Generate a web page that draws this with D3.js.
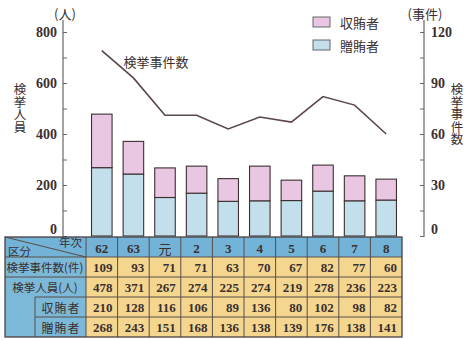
<!DOCTYPE html>
<html><head><meta charset="utf-8">
<script src="https://cdn.jsdelivr.net/npm/d3@7/dist/d3.min.js"></script>
<style>
html,body{margin:0;padding:0;background:#fff;}
svg{display:block;}
</style></head>
<body>
<svg id="c" width="467" height="340"></svg>
<script>
const years = ["62","63","元","2","3","4","5","6","7","8"];
const cases = [109,93,71,71,63,70,67,82,77,60];
const persons = [478,371,267,274,225,274,219,278,236,223];
const takers = [210,128,116,106,89,136,80,102,98,82];   // 収賄者
const givers = [268,243,151,168,136,138,139,176,138,141]; // 贈賄者
const leftTicks = [0,100,200,300,400,500,600,700,800];
const rightTicks = [0,15,30,45,60,75,90,105,120];
const rowLabels = ["検挙事件数(件)","検挙人員(人)","収賄者","贈賄者"];

const ink = "#3b3030";
const pink = "#e9c6e1", blue = "#c3dfeb";
const hdrBlue = "#72b3d7", yellow = "#f4d68f";
const numFont = "'Liberation Serif', 'DejaVu Serif', serif";
const jpFont = "'Noto Sans CJK JP', 'Noto Sans', sans-serif";

const svg = d3.select("#c");
const x = d3.scaleBand().domain(years).range([86, 402]).paddingInner(0.35).paddingOuter(0.175);
const yL = d3.scaleLinear().domain([0,800]).range([236,32]);
const yR = d3.scaleLinear().domain([0,120]).range([236,32]);

// axes
const axL = svg.append("g").attr("transform","translate(63,0)")
  .call(d3.axisLeft(yL).tickValues(leftTicks).tickSizeInner(-4).tickSizeOuter(0).tickPadding(6)
    .tickFormat(d => d % 200 === 0 ? d : ""));
const axR = svg.append("g").attr("transform","translate(424,0)")
  .call(d3.axisRight(yR).tickValues(rightTicks).tickSizeInner(-4).tickSizeOuter(0).tickPadding(7)
    .tickFormat(d => d % 30 === 0 ? d : ""));
[axL, axR].forEach(a => {
  a.select(".domain").remove();
  a.selectAll(".tick line").attr("stroke", "#666");
  a.selectAll(".tick text").attr("fill", ink).style("font-family", numFont)
    .style("font-size","14px").style("font-weight","bold");
  a.selectAll(".tick").filter(d => d === 0).select("text").attr("dy","-0.15em");
});
svg.append("line").attr("x1",63).attr("x2",63).attr("y1",20).attr("y2",237).attr("stroke","#666").attr("stroke-width",1.2);
svg.append("line").attr("x1",424).attr("x2",424).attr("y1",20).attr("y2",237).attr("stroke","#666").attr("stroke-width",1.2);

// bars
const bars = svg.append("g");
years.forEach((yr, i) => {
  bars.append("rect").attr("x", x(yr)).attr("width", x.bandwidth())
    .attr("y", yL(givers[i])).attr("height", yL(0) - yL(givers[i]))
    .attr("fill", blue).attr("stroke", ink).attr("stroke-width", 1.1);
  bars.append("rect").attr("x", x(yr)).attr("width", x.bandwidth())
    .attr("y", yL(persons[i])).attr("height", yL(givers[i]) - yL(persons[i]))
    .attr("fill", pink).attr("stroke", ink).attr("stroke-width", 1.1);
});

// line
const line = d3.line().x((d,i) => x(years[i]) + x.bandwidth()/2).y(d => yR(d));
svg.append("path").datum(cases).attr("d", line).attr("fill","none")
  .attr("stroke","#5a4747").attr("stroke-width",1.6);

// texts
function t(xp, yp, s, opts={}) {
  return svg.append("text").attr("x", xp).attr("y", yp).text(s)
    .attr("fill", ink).style("font-family", opts.font || jpFont)
    .style("font-size", (opts.size || 13) + "px")
    .attr("text-anchor", opts.anchor || "start")
    .attr("dominant-baseline","central")
    .style("font-weight", opts.weight || "normal");
}
t(65, 13, "(人)", {anchor:"middle", size:13});
t(425, 13, "(事件)", {anchor:"middle", size:13});
t(156, 61, "検挙事件数", {anchor:"middle", size:13});

// vertical labels
svg.append("text").attr("x", 20).attr("y", 83).text("検挙人員")
  .attr("fill", ink).style("font-family", jpFont).style("font-size","12.5px")
  .style("writing-mode","vertical-rl");
svg.append("text").attr("x", 457).attr("y", 83).text("検挙事件数")
  .attr("fill", ink).style("font-family", jpFont).style("font-size","12.5px")
  .style("writing-mode","vertical-rl");

// legend
svg.append("rect").attr("x",313).attr("y",17).attr("width",17).attr("height",10).attr("fill",pink).attr("stroke","#666");
svg.append("rect").attr("x",313).attr("y",40).attr("width",17).attr("height",10).attr("fill",blue).attr("stroke","#666");
t(340, 22, "収賄者", {size:13});
t(340, 45, "贈賄者", {size:13});

// table
const tb = svg.append("g");
const rows = [237,257,277,297,317,337];
const tx0 = 5, tx1 = 86, tx2 = 402, sub = 35;
const colL = yr => x(yr) - x.step()*x.paddingInner()/2;
tb.append("rect").attr("x",tx0).attr("y",rows[0]).attr("width",tx2-tx0).attr("height",20).attr("fill",hdrBlue);
tb.append("rect").attr("x",tx0).attr("y",rows[1]).attr("width",tx1-tx0).attr("height",rows[5]-rows[1]).attr("fill","#7cb8d7");
tb.append("rect").attr("x",tx1).attr("y",rows[1]).attr("width",tx2-tx1).attr("height",rows[5]-rows[1]).attr("fill",yellow);
const gl = "#5a4e4a";
tb.append("line").attr("x1",tx0).attr("x2",tx2).attr("y1",rows[1]).attr("y2",rows[1]).attr("stroke",gl);
tb.append("line").attr("x1",tx0).attr("x2",tx2).attr("y1",rows[2]).attr("y2",rows[2]).attr("stroke",gl);
tb.append("line").attr("x1",sub).attr("x2",tx2).attr("y1",rows[3]).attr("y2",rows[3]).attr("stroke",gl);
tb.append("line").attr("x1",sub).attr("x2",tx2).attr("y1",rows[4]).attr("y2",rows[4]).attr("stroke",gl);
tb.append("line").attr("x1",sub).attr("x2",sub).attr("y1",rows[3]).attr("y2",rows[5]).attr("stroke",gl);
years.forEach(yr => {
  tb.append("line").attr("x1",colL(yr)).attr("x2",colL(yr)).attr("y1",rows[0]).attr("y2",rows[5]).attr("stroke",gl);
});
tb.append("line").attr("x1",tx0).attr("y1",rows[0]).attr("x2",tx1).attr("y2",rows[1]).attr("stroke",gl);
tb.append("rect").attr("x",tx0).attr("y",rows[0]).attr("width",tx2-tx0).attr("height",rows[5]-rows[0])
  .attr("fill","none").attr("stroke","#4a4040").attr("stroke-width",1.3);

t(82, 242, "年次", {anchor:"end", size:11.5});
t(8, 251, "区分", {size:11.5});
t(45, 267, rowLabels[0], {anchor:"middle", size:11.5});
t(45, 287, rowLabels[1], {anchor:"middle", size:11.5});
svg.append("text").attr("x",61).attr("y",307).text(rowLabels[2]).attr("fill",ink).style("font-family",jpFont)
  .style("font-size","12px").attr("text-anchor","middle").attr("dominant-baseline","central").style("letter-spacing","1px");
svg.append("text").attr("x",61).attr("y",327).text(rowLabels[3]).attr("fill",ink).style("font-family",jpFont)
  .style("font-size","12px").attr("text-anchor","middle").attr("dominant-baseline","central").style("letter-spacing","1px");

const dataRows = [cases, persons, takers, givers];
years.forEach((yr, i) => {
  const cx = x(yr) + x.bandwidth()/2;
  const right = colL(yr) + x.step() - 5;
  t(cx, 248, yr, {anchor:"middle", size:13, font: yr === "元" ? jpFont : numFont, weight: yr==="元" ? "normal" : "bold"});
  dataRows.forEach((arr, r) => {
    t(right, rows[r+1] + 10.5, arr[i], {anchor:"end", size:13, font:numFont, weight:"bold"});
  });
});
</script>
</body></html>
